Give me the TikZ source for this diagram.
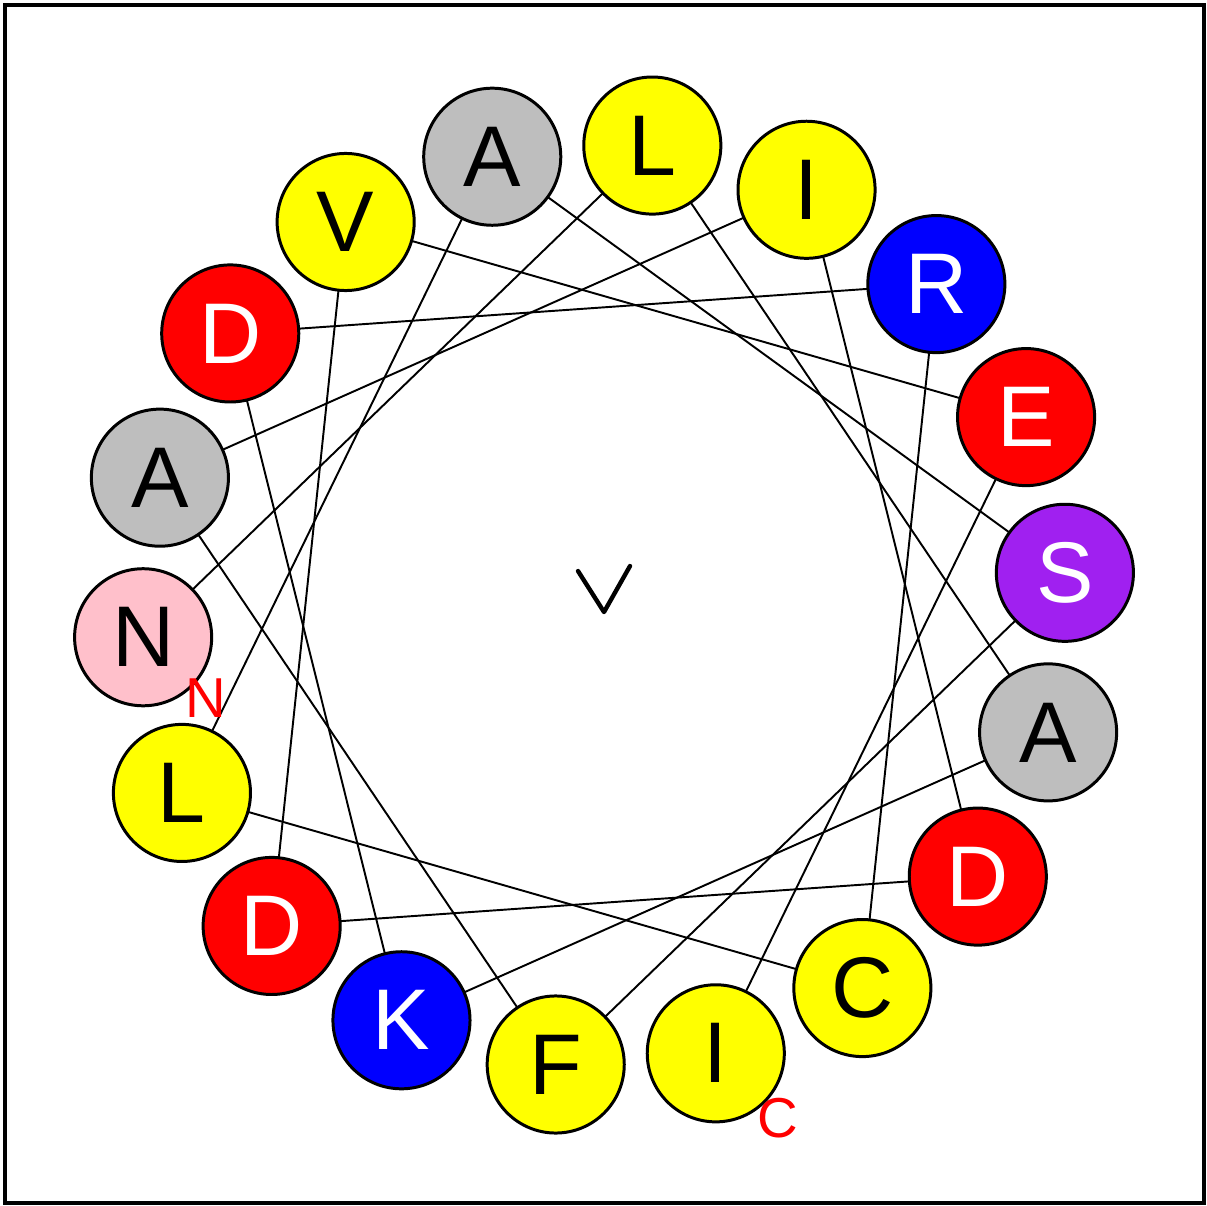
\documentclass[tikz,border=0pt]{standalone}
\usepackage{fontspec}
\setmainfont{Liberation Sans}
\usetikzlibrary{backgrounds}
\definecolor{hyel}{RGB}{255,255,0}
\definecolor{hred}{RGB}{255,0,0}
\definecolor{hblue}{RGB}{0,0,255}
\definecolor{hpurple}{RGB}{160,32,240}
\definecolor{hgray}{RGB}{190,190,190}
\definecolor{hpink}{RGB}{255,192,203}
\begin{document}
\begin{tikzpicture}[x=0.01cm,y=-0.01cm,
  res/.style={circle,draw=black,line width=0.85pt,minimum size=1.37cm,inner sep=0pt,
    font=\fontsize{24.5}{28}\selectfont},
  link/.style={line width=0.55pt},
  term/.style={text=hred,inner sep=0pt,font=\fontsize{16}{18}\selectfont},
  frame/.style={line width=1pt}]
\useasboundingbox (0,0) rectangle (1207,1205);
\draw[frame] (5,5) rectangle (1204,1203);
\foreach \i/\aa/\fc/\tc in {1/N/hpink/black, 2/L/hyel/black, 3/A/hgray/black,
  4/K/hblue/white, 5/D/hred/white, 6/R/hblue/white, 7/C/hyel/black,
  8/L/hyel/black, 9/A/hgray/black, 10/S/hpurple/white, 11/F/hyel/black,
  12/A/hgray/black, 13/I/hyel/black, 14/D/hred/white, 15/D/hred/white,
  16/V/hyel/black, 17/E/hred/white, 18/I/hyel/black} {
  \pgfmathsetmacro\ang{184-100*(\i-1)}
  \node[res,fill=\fc,text=\tc] (r\i) at ({604+462*cos(\ang)},{605-462*sin(\ang)}) {\aa};
}
\begin{scope}[on background layer]
\fill[white] (0,0) rectangle (1207,1205);
\foreach \i in {1,...,17} {
  \pgfmathtruncatemacro\j{\i+1}
  \draw[link] (r\i.center) -- (r\j.center);
}
\end{scope}
\node[term] (nlab) at (206,698) {N};
\node[term] (clab) at (778,1118) {C};
\draw[line width=1.25pt,line cap=round,line join=round] (578,571) -- (604,612) -- (630,566);
\end{tikzpicture}
\end{document}
